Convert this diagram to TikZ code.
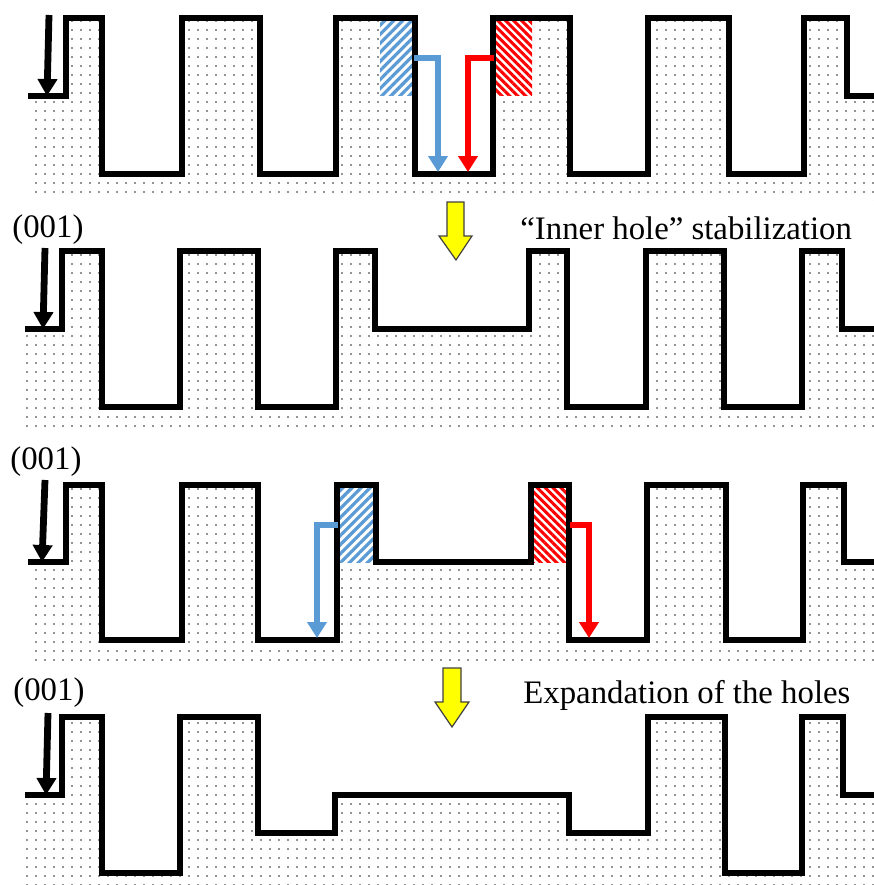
\documentclass[tikz,border=0pt]{standalone}
\usepackage{fontspec}
\setmainfont{Liberation Serif}
\usetikzlibrary{patterns.meta,arrows.meta}
\definecolor{hblue}{HTML}{5B9BD5}
\definecolor{hred}{HTML}{FF0000}
\definecolor{arrowyellow}{HTML}{FFFF00}
\begin{document}
\begin{tikzpicture}[x=0.5pt,y=-0.5pt,
  dotfill/.style={pattern={Dots[distance=4.5pt,radius=0.45pt]},pattern color=black!85},
  profile/.style={line width=2.8pt,line join=miter},
  bluehatch/.style={pattern={Lines[angle=45,distance=3.2pt,line width=1.6pt]},pattern color=hblue},
  redhatch/.style={pattern={Lines[angle=-45,distance=2.8pt,line width=1.5pt]},pattern color=hred},
  blackarrow/.style={line width=3.4pt,-{Triangle[width=9.5pt,length=8.5pt]}},
  bluearrow/.style={draw=hblue,line width=3pt,line join=miter,-{Triangle[width=9.5pt,length=8pt]}},
  redarrow/.style={draw=hred,line width=3pt,line join=miter,-{Triangle[width=9.5pt,length=8pt]}},
  yarrow/.style={fill=arrowyellow,draw=black!75,line width=0.6pt,line join=miter},
  lbl/.style={font=\fontsize{16.4}{19}\selectfont,inner sep=0pt}
]
\useasboundingbox (0,0) rectangle (874,885);

% ---------- Panel 1 ----------
\fill[dotfill] (28,200) -- (28,96) -- (66,96) -- (66,18) -- (102,18) -- (102,174) -- (182,174) -- (182,18) -- (260,18) -- (260,174) -- (336,174) -- (336,18) -- (415,18) -- (415,174) -- (493,174) -- (493,18) -- (570,18) -- (570,174) -- (648,174) -- (648,18) -- (729,18) -- (729,174) -- (804,174) -- (804,18) -- (847,18) -- (847,96) -- (874,96) -- (874,200) -- cycle;
\fill[white] (380,20) rectangle (413,95);
\fill[bluehatch] (380,20) rectangle (413,95);
\fill[white] (495,20) rectangle (532,95);
\fill[redhatch] (495,20) rectangle (532,95);
\draw[profile] (28,96) -- (66,96) -- (66,18) -- (102,18) -- (102,174) -- (182,174) -- (182,18) -- (260,18) -- (260,174) -- (336,174) -- (336,18) -- (415,18) -- (415,174) -- (493,174) -- (493,18) -- (570,18) -- (570,174) -- (648,174) -- (648,18) -- (729,18) -- (729,174) -- (804,174) -- (804,18) -- (847,18) -- (847,96) -- (874,96);
\coordinate (b1s) at (414,58); \coordinate (b1c) at (438,58); \coordinate (b1e) at (438,172);
\coordinate (r1s) at (494,58); \coordinate (r1c) at (468,58); \coordinate (r1e) at (468,172);
\draw[bluearrow] (b1s) -- (b1c) -- (b1e);
\draw[redarrow] (r1s) -- (r1c) -- (r1e);
\coordinate (k1s) at (49,15); \coordinate (k1e) at (47,96);
\draw[blackarrow] (k1s) -- (k1e);

% yellow arrow 1
\draw[yarrow] (447,202) -- (464,202) -- (464,236) -- (472,236) -- (456,260) -- (439,236) -- (447,236) -- cycle;
\node[lbl,anchor=base west] (t1) at (520,239) {“Inner hole” stabilization};

% ---------- Panel 2 ----------
\node[lbl,anchor=base west] (m2) at (12,237) {(001)};
\fill[dotfill] (25,430) -- (25,329) -- (62,329) -- (62,251) -- (102,251) -- (102,407) -- (180,407) -- (180,251) -- (258,251) -- (258,407) -- (336,407) -- (336,251) -- (375,251) -- (375,329) -- (529,329) -- (529,251) -- (567,251) -- (567,407) -- (646,407) -- (646,251) -- (724,251) -- (724,407) -- (802,407) -- (802,251) -- (842,251) -- (842,329) -- (874,329) -- (874,430) -- cycle;
\draw[profile] (25,329) -- (62,329) -- (62,251) -- (102,251) -- (102,407) -- (180,407) -- (180,251) -- (258,251) -- (258,407) -- (336,407) -- (336,251) -- (375,251) -- (375,329) -- (529,329) -- (529,251) -- (567,251) -- (567,407) -- (646,407) -- (646,251) -- (724,251) -- (724,407) -- (802,407) -- (802,251) -- (842,251) -- (842,329) -- (874,329);
\coordinate (k2s) at (45,248); \coordinate (k2e) at (43,329);
\draw[blackarrow] (k2s) -- (k2e);

% ---------- Panel 3 ----------
\node[lbl,anchor=base west] (m3) at (10,469) {(001)};
\fill[dotfill] (28,662) -- (28,562) -- (66,562) -- (66,485) -- (102,485) -- (102,640) -- (182,640) -- (182,485) -- (258,485) -- (258,640) -- (337,640) -- (337,485) -- (376,485) -- (376,562) -- (531,562) -- (531,485) -- (569,485) -- (569,640) -- (647,640) -- (647,485) -- (726,485) -- (726,640) -- (803,640) -- (803,485) -- (844,485) -- (844,562) -- (874,562) -- (874,662) -- cycle;
\fill[white] (338,487) rectangle (375,562);
\fill[bluehatch] (338,487) rectangle (375,562);
\fill[white] (532,487) rectangle (568,562);
\fill[redhatch] (532,487) rectangle (568,562);
\draw[profile] (28,562) -- (66,562) -- (66,485) -- (102,485) -- (102,640) -- (182,640) -- (182,485) -- (258,485) -- (258,640) -- (337,640) -- (337,485) -- (376,485) -- (376,562) -- (531,562) -- (531,485) -- (569,485) -- (569,640) -- (647,640) -- (647,485) -- (726,485) -- (726,640) -- (803,640) -- (803,485) -- (844,485) -- (844,562) -- (874,562);
\coordinate (b3s) at (338,525); \coordinate (b3c) at (317,525); \coordinate (b3e) at (317,638);
\coordinate (r3s) at (570,525); \coordinate (r3c) at (589,525); \coordinate (r3e) at (589,638);
\draw[bluearrow] (b3s) -- (b3c) -- (b3e);
\draw[redarrow] (r3s) -- (r3c) -- (r3e);
\coordinate (k3s) at (45,480); \coordinate (k3e) at (42,562);
\draw[blackarrow] (k3s) -- (k3e);

% yellow arrow 2
\draw[yarrow] (443,668) -- (461,668) -- (461,702) -- (469,702) -- (452,727) -- (435,702) -- (443,702) -- cycle;
\node[lbl,anchor=base west] (t2) at (523,703) {Expandation of the holes};

% ---------- Panel 4 ----------
\node[lbl,anchor=base west] (m4) at (13,700) {(001)};
\fill[dotfill] (25,885) -- (25,795) -- (62,795) -- (62,717) -- (102,717) -- (102,873) -- (180,873) -- (180,717) -- (258,717) -- (258,833) -- (335,833) -- (335,795) -- (569,795) -- (569,833) -- (648,833) -- (648,717) -- (725,717) -- (725,873) -- (802,873) -- (802,717) -- (843,717) -- (843,795) -- (874,795) -- (874,885) -- cycle;
\draw[profile] (25,795) -- (62,795) -- (62,717) -- (102,717) -- (102,873) -- (180,873) -- (180,717) -- (258,717) -- (258,833) -- (335,833) -- (335,795) -- (569,795) -- (569,833) -- (648,833) -- (648,717) -- (725,717) -- (725,873) -- (802,873) -- (802,717) -- (843,717) -- (843,795) -- (874,795);
\coordinate (k4s) at (48,713); \coordinate (k4e) at (46,795);
\draw[blackarrow] (k4s) -- (k4e);
\end{tikzpicture}
\end{document}
